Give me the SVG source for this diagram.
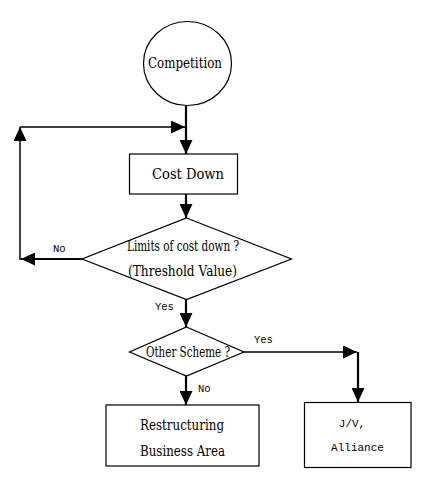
<svg xmlns="http://www.w3.org/2000/svg" width="432" height="489" viewBox="0 0 432 489">
<defs>
<marker id="ah" markerUnits="userSpaceOnUse" markerWidth="14" markerHeight="13" refX="14" refY="6.5" orient="auto">
<path d="M0,0 L14,6.5 L0,13 z" fill="#000"/>
</marker>
<style>
.shape{fill:#fff;stroke:#000;stroke-width:1.2}
.serif{font-family:"DejaVu Serif","Liberation Serif",serif;font-size:14px;fill:#000;text-anchor:middle}
.mono{font-family:"Liberation Mono","DejaVu Sans Mono",monospace;font-size:10.5px;fill:#000}
.box{font-family:"Liberation Mono","DejaVu Sans Mono",monospace;font-size:11px;fill:#000;text-anchor:middle}
.main{fill:none;stroke:#000;stroke-width:2.2;marker-end:url(#ah)}
.thin{fill:none;stroke:#000;stroke-width:1.5;marker-end:url(#ah)}
</style>
</defs>
<rect width="432" height="489" fill="#fff"/>
<g id="connectors">
<line class="main" x1="186" y1="105" x2="186" y2="154"/>
<line class="thin" x1="20" y1="127" x2="185" y2="127"/>
<line class="main" x1="186" y1="194" x2="186" y2="218"/>
<line class="main" x1="82" y1="259" x2="21" y2="259"/>
<line class="thin" x1="20" y1="260" x2="20" y2="127"/>
<line class="main" x1="186" y1="299" x2="186" y2="327"/>
<line class="thin" x1="244" y1="352" x2="357" y2="352"/>
<line class="main" x1="358" y1="352" x2="358" y2="402"/>
<line class="main" x1="186" y1="376" x2="186" y2="405"/>
<text class="mono" x="53" y="252">No</text>
<text class="mono" x="155" y="310">Yes</text>
<text class="mono" x="254" y="343">Yes</text>
<text class="mono" x="198" y="392">No</text>
</g>
<g id="competition">
<ellipse class="shape" cx="187.5" cy="63.5" rx="44" ry="42"/>
<text class="serif" x="185" y="67.5" textLength="74" lengthAdjust="spacingAndGlyphs">Competition</text>
</g>
<g id="cost-down">
<rect class="shape" x="129.5" y="154" width="108" height="40"/>
<text class="serif" x="188" y="178.5" textLength="72" lengthAdjust="spacingAndGlyphs">Cost Down</text>
</g>
<g id="limits">
<polygon class="shape" points="186.5,218 291.5,259 186.5,299.5 82,259"/>
<text class="serif" x="183" y="250.5" textLength="112" lengthAdjust="spacingAndGlyphs">Limits of cost down ?</text>
<text class="serif" x="182.5" y="276" textLength="109" lengthAdjust="spacingAndGlyphs">(Threshold Value)</text>
</g>
<g id="other-scheme">
<polygon class="shape" points="186.5,327 244,352 186.5,376 129.5,352"/>
<text class="serif" x="188" y="356.5" font-size="13" textLength="84" lengthAdjust="spacingAndGlyphs">Other Scheme ?</text>
</g>
<g id="restructuring">
<rect class="shape" x="106" y="405" width="153" height="61"/>
<text class="serif" x="182" y="430" textLength="84" lengthAdjust="spacingAndGlyphs">Restructuring</text>
<text class="serif" x="182.5" y="455.5" textLength="85" lengthAdjust="spacingAndGlyphs">Business Area</text>
</g>
<g id="jv-alliance">
<rect class="shape" x="304.5" y="402.5" width="106.5" height="65"/>
<text class="box" x="352" y="427">J/V,</text>
<text class="box" x="357.5" y="451">Alliance</text>
</g>
</svg>
